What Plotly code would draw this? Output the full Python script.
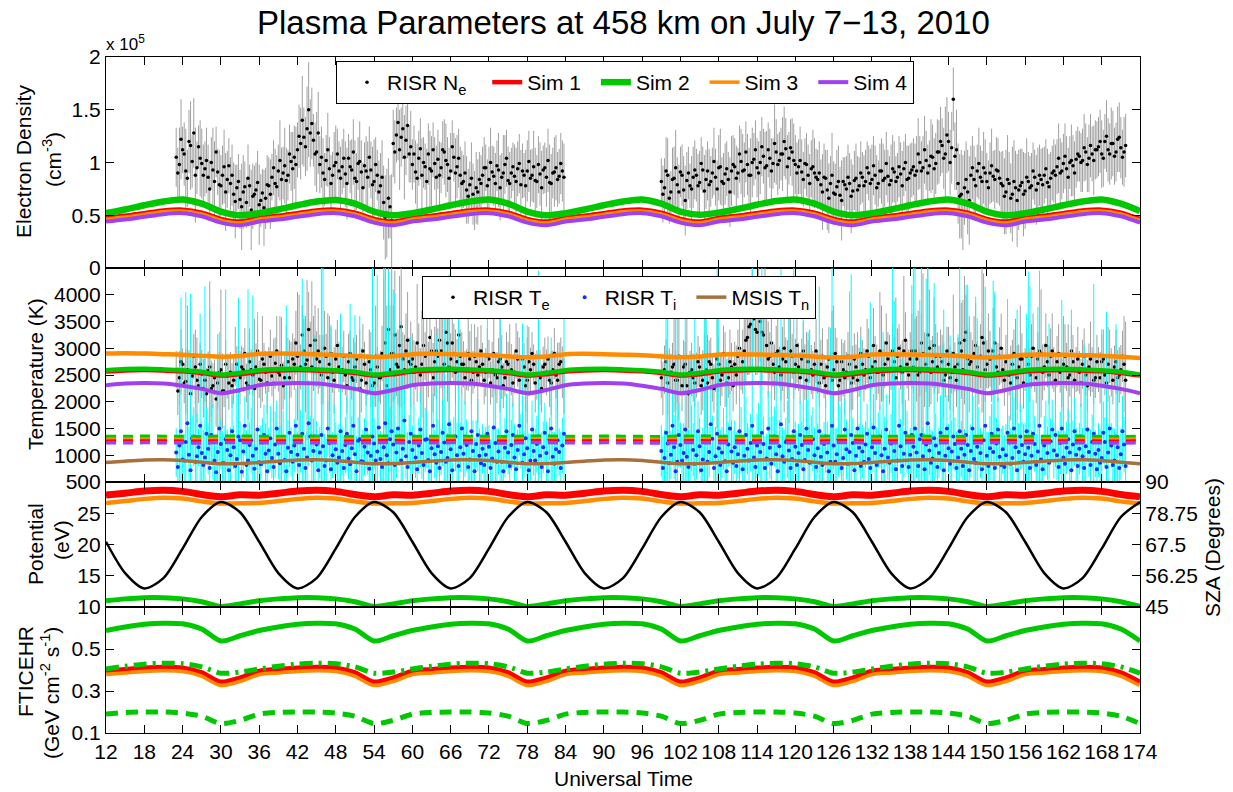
import numpy as np
import plotly.graph_objects as go

# ---------------- model time grid (UT hours, 3-h samples) ----------------
T_MODEL = list(range(12, 175, 3))  # 55 samples

# Electron density models (units of 1e3 cm^-3)
NE_SIM1 = [47.5, 49.5, 52, 54.5, 55.3, 52.5, 46.5, 44,
           47.5, 49.5, 52, 54.5, 55.3, 52.5, 46.5, 44,
           47.5, 49.5, 52, 54.5, 55.3, 52.5, 46.5, 44,
           47.5, 49.5, 52, 54.5, 55.3, 52.5, 46.5, 44,
           47.5, 49.5, 52, 54.5, 55.3, 52.5, 46.5, 44,
           47.5, 49.5, 52, 54.5, 55.3, 52.5, 46.5, 44,
           47.5, 49.5, 52, 54.5, 55.3, 52.5, 46.5]
NE_SIM2 = [52, 55.5, 59.5, 63, 65, 61, 53.5, 50,
           52, 55.5, 59.5, 63, 64.5, 61, 53.5, 50,
           52, 55.5, 59.5, 63, 65, 61, 53.5, 50,
           52, 55.5, 59.5, 63, 65, 61, 53.5, 50.5,
           52.5, 56, 60, 63.5, 65, 61, 53.5, 50,
           52, 55.5, 59.5, 63, 65, 61, 53.5, 50,
           52, 55.5, 59.5, 63, 65, 61, 54]
NE_SIM3 = [46.3, 48.3, 50.8, 53.3, 54.1, 51.3, 45.3, 42.8,
           46.3, 48.3, 50.8, 53.3, 54.1, 51.3, 45.3, 42.8,
           46.3, 48.3, 50.8, 53.3, 54.1, 51.3, 45.3, 42.8,
           46.3, 48.3, 50.8, 53.3, 54.1, 51.3, 45.3, 42.8,
           46.3, 48.3, 50.8, 53.3, 54.1, 51.3, 45.3, 42.8,
           46.3, 48.3, 50.8, 53.3, 54.1, 51.3, 45.3, 42.8,
           46.3, 48.3, 50.8, 53.3, 54.1, 51.3, 45.3]
NE_SIM4 = [44, 46, 48.5, 51, 52, 49, 43, 40.5,
           44, 46, 48.5, 51, 52, 49, 43, 40.5,
           44, 46, 48.5, 51, 52, 49, 43, 40.5,
           44, 46, 48.5, 51, 52, 49, 43, 40.5,
           44, 46, 48.5, 51, 52, 49, 43, 40.5,
           44, 46, 48.5, 51, 52, 49, 43, 40.5,
           44, 46, 48.5, 51, 52, 49, 43]

# Electron temperature models (K)
TE_SIM1 = [2565, 2585, 2592, 2582, 2568, 2538, 2490, 2515,
           2565, 2585, 2592, 2582, 2568, 2538, 2490, 2515,
           2565, 2585, 2592, 2582, 2568, 2538, 2490, 2515,
           2565, 2585, 2592, 2582, 2568, 2538, 2490, 2515,
           2565, 2585, 2592, 2582, 2568, 2538, 2490, 2515,
           2565, 2585, 2592, 2582, 2568, 2538, 2490, 2515,
           2565, 2585, 2592, 2582, 2568, 2538, 2490]
TE_SIM2 = [2590, 2610, 2615, 2605, 2590, 2560, 2510, 2540,
           2590, 2610, 2615, 2605, 2590, 2560, 2510, 2540,
           2590, 2610, 2615, 2605, 2590, 2560, 2510, 2540,
           2590, 2610, 2615, 2605, 2590, 2560, 2510, 2540,
           2590, 2610, 2615, 2605, 2590, 2560, 2510, 2540,
           2590, 2610, 2615, 2605, 2590, 2560, 2510, 2540,
           2590, 2610, 2615, 2605, 2590, 2560, 2510]
TE_SIM3 = [2900, 2905, 2900, 2890, 2880, 2860, 2840, 2855,
           2895, 2900, 2895, 2885, 2875, 2855, 2835, 2850,
           2890, 2895, 2890, 2880, 2870, 2850, 2830, 2845,
           2890, 2895, 2890, 2880, 2870, 2850, 2830, 2845,
           2885, 2890, 2885, 2875, 2865, 2845, 2825, 2840,
           2885, 2890, 2885, 2875, 2865, 2845, 2825, 2840,
           2880, 2885, 2880, 2870, 2860, 2840, 2820]
TE_SIM4 = [2310, 2340, 2350, 2340, 2300, 2240, 2160, 2220,
           2310, 2340, 2350, 2340, 2300, 2240, 2160, 2220,
           2310, 2340, 2350, 2340, 2300, 2240, 2160, 2220,
           2310, 2340, 2350, 2340, 2300, 2240, 2160, 2220,
           2310, 2340, 2350, 2340, 2300, 2240, 2160, 2220,
           2310, 2340, 2350, 2340, 2300, 2240, 2160, 2220,
           2310, 2340, 2350, 2340, 2300, 2240, 2160]
TN_MSIS = [865, 890, 910, 915, 900, 870, 840, 845,
           865, 890, 910, 915, 900, 870, 840, 845,
           865, 890, 910, 915, 900, 870, 840, 845,
           865, 890, 910, 915, 900, 870, 840, 845,
           865, 890, 910, 915, 900, 870, 840, 845,
           865, 890, 910, 915, 900, 870, 840, 845,
           865, 890, 910, 915, 900, 870, 840]
# Ion temperature models (K)
TI_SIM1 = [1268, 1270, 1272, 1271, 1268, 1265, 1273, 1275,
           1268, 1270, 1272, 1271, 1268, 1265, 1273, 1275,
           1268, 1270, 1272, 1271, 1268, 1265, 1273, 1275,
           1268, 1270, 1272, 1271, 1268, 1265, 1273, 1275,
           1268, 1270, 1272, 1271, 1268, 1265, 1273, 1275,
           1268, 1270, 1272, 1271, 1268, 1265, 1273, 1275,
           1268, 1270, 1272, 1271, 1268, 1265, 1273]
TI_SIM2 = [1345, 1347, 1349, 1348, 1345, 1342, 1350, 1352,
           1345, 1347, 1349, 1348, 1345, 1342, 1350, 1352,
           1345, 1347, 1349, 1348, 1345, 1342, 1350, 1352,
           1345, 1347, 1349, 1348, 1345, 1342, 1350, 1352,
           1345, 1347, 1349, 1348, 1345, 1342, 1350, 1352,
           1345, 1347, 1349, 1348, 1345, 1342, 1350, 1352,
           1345, 1347, 1349, 1348, 1345, 1342, 1350]
TI_SIM3 = [1295, 1297, 1299, 1298, 1295, 1292, 1300, 1302,
           1295, 1297, 1299, 1298, 1295, 1292, 1300, 1302,
           1295, 1297, 1299, 1298, 1295, 1292, 1300, 1302,
           1295, 1297, 1299, 1298, 1295, 1292, 1300, 1302,
           1295, 1297, 1299, 1298, 1295, 1292, 1300, 1302,
           1295, 1297, 1299, 1298, 1295, 1292, 1300, 1302,
           1295, 1297, 1299, 1298, 1295, 1292, 1300]
TI_SIM4 = [1232, 1234, 1236, 1235, 1232, 1229, 1237, 1239,
           1232, 1234, 1236, 1235, 1232, 1229, 1237, 1239,
           1232, 1234, 1236, 1235, 1232, 1229, 1237, 1239,
           1232, 1234, 1236, 1235, 1232, 1229, 1237, 1239,
           1232, 1234, 1236, 1235, 1232, 1229, 1237, 1239,
           1232, 1234, 1236, 1235, 1232, 1229, 1237, 1239,
           1232, 1234, 1236, 1235, 1232, 1229, 1237]

# Potential (eV) and solar zenith angle (deg)
POT_SIM1 = [27.9, 28.2, 28.55, 28.7, 28.5, 28.0, 27.65, 27.95,
            27.9, 28.2, 28.55, 28.7, 28.5, 28.0, 27.65, 27.95,
            27.9, 28.2, 28.55, 28.7, 28.5, 28.0, 27.65, 27.95,
            27.9, 28.2, 28.55, 28.7, 28.5, 28.0, 27.65, 27.95,
            27.9, 28.2, 28.55, 28.7, 28.5, 28.0, 27.65, 27.95,
            27.9, 28.2, 28.55, 28.7, 28.5, 28.0, 27.65, 27.95,
            27.9, 28.2, 28.55, 28.7, 28.5, 28.0, 27.65]
POT_SIM3 = [26.65, 26.95, 27.3, 27.5, 27.35, 26.9, 26.55, 26.6,
            26.65, 26.95, 27.3, 27.5, 27.35, 26.9, 26.55, 26.6,
            26.65, 26.95, 27.3, 27.5, 27.35, 26.9, 26.55, 26.6,
            26.65, 26.95, 27.3, 27.5, 27.35, 26.9, 26.55, 26.6,
            26.65, 26.95, 27.3, 27.5, 27.35, 26.9, 26.55, 26.6,
            26.65, 26.95, 27.3, 27.5, 27.35, 26.9, 26.55, 26.6,
            26.65, 26.95, 27.3, 27.5, 27.35, 26.9, 26.55]
POT_SIM2 = [11.0, 11.3, 11.5, 11.5, 11.3, 10.85, 10.1, 10.5,
            11.0, 11.3, 11.5, 11.5, 11.3, 10.85, 10.1, 10.5,
            11.0, 11.3, 11.5, 11.5, 11.3, 10.85, 10.1, 10.5,
            11.0, 11.3, 11.5, 11.5, 11.3, 10.85, 10.1, 10.5,
            11.0, 11.3, 11.5, 11.5, 11.3, 10.85, 10.1, 10.5,
            11.0, 11.3, 11.5, 11.5, 11.3, 10.85, 10.1, 10.5,
            11.0, 11.3, 11.5, 11.5, 11.3, 10.85, 10.1]
SZA_DEG = [68.5, 57.2, 51.7, 55.4, 66.0, 77.4, 82.8, 79.1,
           68.5, 57.2, 51.7, 55.4, 66.0, 77.4, 82.8, 79.1,
           68.5, 57.2, 51.7, 55.4, 66.0, 77.4, 82.8, 79.1,
           68.5, 57.2, 51.7, 55.4, 66.0, 77.4, 82.8, 79.1,
           68.5, 57.2, 51.7, 55.4, 66.0, 77.4, 82.8, 79.1,
           68.5, 57.2, 51.7, 55.4, 66.0, 77.4, 82.8, 79.1,
           68.5, 57.2, 51.7, 55.4, 66.0, 77.4, 82.8]

# FTICEHR (GeV cm^-2 s^-1)
FTI_SIM2 = [0.588, 0.605, 0.618, 0.623, 0.62, 0.595, 0.538, 0.563,
            0.588, 0.605, 0.618, 0.623, 0.62, 0.595, 0.538, 0.563,
            0.588, 0.605, 0.618, 0.623, 0.62, 0.595, 0.538, 0.563,
            0.588, 0.605, 0.618, 0.623, 0.62, 0.595, 0.538, 0.563,
            0.588, 0.605, 0.618, 0.623, 0.62, 0.595, 0.538, 0.563,
            0.588, 0.605, 0.618, 0.623, 0.62, 0.595, 0.538, 0.563,
            0.588, 0.605, 0.618, 0.623, 0.62, 0.595, 0.538]
FTI_SIM1 = [0.397, 0.405, 0.412, 0.415, 0.412, 0.39, 0.345, 0.365,
            0.397, 0.405, 0.412, 0.415, 0.412, 0.39, 0.345, 0.365,
            0.397, 0.405, 0.412, 0.415, 0.412, 0.39, 0.345, 0.365,
            0.397, 0.405, 0.412, 0.415, 0.412, 0.39, 0.345, 0.365,
            0.397, 0.405, 0.412, 0.415, 0.412, 0.39, 0.345, 0.365,
            0.397, 0.405, 0.412, 0.415, 0.412, 0.39, 0.345, 0.365,
            0.397, 0.405, 0.412, 0.415, 0.412, 0.39, 0.345]
FTI_SIM3 = [0.384, 0.392, 0.399, 0.402, 0.399, 0.377, 0.332, 0.352,
            0.384, 0.392, 0.399, 0.402, 0.399, 0.377, 0.332, 0.352,
            0.384, 0.392, 0.399, 0.402, 0.399, 0.377, 0.332, 0.352,
            0.384, 0.392, 0.399, 0.402, 0.399, 0.377, 0.332, 0.352,
            0.384, 0.392, 0.399, 0.402, 0.399, 0.377, 0.332, 0.352,
            0.384, 0.392, 0.399, 0.402, 0.399, 0.377, 0.332, 0.352,
            0.384, 0.392, 0.399, 0.402, 0.399, 0.377, 0.332]
FTI_DASHDOT = [0.405, 0.418, 0.428, 0.432, 0.43, 0.415, 0.385, 0.39,
               0.405, 0.418, 0.428, 0.432, 0.43, 0.415, 0.385, 0.39,
               0.405, 0.418, 0.428, 0.432, 0.43, 0.415, 0.385, 0.39,
               0.405, 0.418, 0.428, 0.432, 0.43, 0.415, 0.385, 0.39,
               0.405, 0.418, 0.428, 0.432, 0.43, 0.415, 0.385, 0.39,
               0.405, 0.418, 0.428, 0.432, 0.43, 0.415, 0.385, 0.39,
               0.405, 0.418, 0.428, 0.432, 0.43, 0.415, 0.385]
FTI_DASH = [0.19, 0.198, 0.2, 0.2, 0.195, 0.18, 0.145, 0.16,
            0.19, 0.198, 0.2, 0.2, 0.195, 0.18, 0.145, 0.16,
            0.19, 0.198, 0.2, 0.2, 0.195, 0.18, 0.145, 0.16,
            0.19, 0.198, 0.2, 0.2, 0.195, 0.18, 0.145, 0.16,
            0.19, 0.198, 0.2, 0.2, 0.195, 0.18, 0.145, 0.16,
            0.19, 0.198, 0.2, 0.2, 0.195, 0.18, 0.145, 0.16,
            0.19, 0.198, 0.2, 0.2, 0.195, 0.18, 0.145]

# ---------------- RISR measurements ----------------
# Two interleaved 30-min series per segment (A on the hour/half hour, B a quarter hour later)
CADENCE = 0.5

NE1 = [105, 98, 112, 92, 120, 101, 88, 115, 99,
       94, 86, 100, 82, 91, 78, 96, 84,
       80, 70, 76, 65, 72, 62, 78, 68, 74, 60, 71, 66,
       78, 86, 80, 92, 84, 97, 88, 101,
       105, 112, 118, 124, 132, 128, 121, 110,
       98, 90, 102, 94, 88, 100, 92,
       96, 89, 104, 93, 85, 99, 91, 97, 86, 93, 82, 88, 78,
       62, 52, 58,
       118, 126, 112, 132, 121, 108,
       98, 91, 104, 88, 96, 108, 92, 99,
       103, 95, 110, 98, 92, 105, 96, 88,
       82, 74, 79, 70, 76, 84,
       88, 95, 84, 91, 80, 93, 86, 98, 83, 90, 87, 94, 79, 88, 92, 85, 96, 82, 89, 93, 86, 81, 90, 95, 87, 92]
NE_ERR1 = [28, 35, 22, 40, 30, 25, 45, 20, 33,
           26, 31, 24, 38, 22, 29, 35, 27,
           25, 30, 22, 28, 35, 24, 20, 31, 26, 38, 23, 29,
           27, 22, 33, 25, 30, 36, 24, 28,
           30, 26, 34, 28, 40, 32, 25, 38,
           27, 33, 24, 30, 22, 35, 28,
           26, 31, 23, 29, 36, 25, 30, 22, 34, 27, 40, 24, 31,
           35, 42, 30,
           32, 26, 38, 29, 33, 27,
           24, 30, 26, 35, 22, 29, 33, 25,
           28, 24, 31, 26, 36, 23, 30, 27,
           25, 32, 22, 29, 34, 26,
           27, 22, 31, 25, 29, 35, 23, 28, 32, 24, 30, 26, 33, 21, 29, 27, 34, 25, 30, 23, 28, 36, 24, 31, 26, 29]
NE1B = [90, 122, 108, 85, 116, 128, 95, 104, 88,
        102, 75, 93, 110, 79, 88, 72, 97,
        88, 63, 82, 58, 77, 85, 55, 70, 81, 64, 57, 79,
        70, 95, 77, 102, 90, 83, 108, 94,
        98, 125, 140, 115, 150, 137, 108, 128,
        105, 84, 112, 80, 97, 108, 85,
        104, 80, 96, 110, 82, 101, 76, 92, 105, 79, 98, 72, 86,
        48, 66, 45,
        110, 138, 124, 105, 135, 115,
        108, 85, 113, 100, 82, 94, 112, 86,
        88, 112, 102, 85, 115, 90, 104, 80,
        90, 68, 85, 64, 72, 80,
        95, 78, 100, 87, 97, 76, 90, 104, 80, 96, 82, 99, 92, 78, 101, 88, 83, 98, 76, 95, 102, 80, 91, 84, 99, 86]
NE_ERR1B = [24, 38, 30, 27, 42, 33, 25, 36, 29,
            31, 27, 40, 24, 33, 28, 37, 26,
            29, 35, 26, 41, 24, 32, 38, 27, 30, 25, 36, 28,
            33, 26, 30, 38, 25, 31, 28, 35,
            36, 30, 42, 28, 45, 34, 30, 39,
            29, 25, 35, 27, 32, 24, 30,
            28, 34, 25, 31, 27, 38, 24, 33, 29, 36, 26, 30, 35,
            40, 38, 44,
            30, 36, 28, 40, 31, 34,
            27, 33, 29, 24, 31, 36, 26, 30,
            32, 27, 35, 29, 25, 33, 28, 31,
            30, 26, 34, 28, 31, 27,
            29, 25, 33, 28, 24, 31, 36, 27, 30, 23, 32, 28, 26, 34, 29, 25, 31, 27, 35, 24, 30, 28, 33, 26, 29, 32]
NE2 = [82, 76, 88, 72, 85, 79, 91, 74, 83, 78, 86,
       88, 81, 93, 84, 79, 90, 86, 95, 82, 89, 84, 92,
       96, 90, 101, 93, 98, 88, 103, 95,
       100, 106, 97, 104, 99, 110, 102, 108, 113, 104, 110, 98,
       96, 91, 99, 88, 94, 90,
       84, 79, 86, 74, 80, 71, 77, 69, 82, 75, 80, 73, 85, 78,
       86, 82, 90, 84, 88, 80, 92, 85, 87, 83, 91, 86, 89, 94, 84, 90,
       96, 92, 100, 95, 102, 97, 105, 99,
       110, 116, 108, 120, 114, 106,
       80, 70, 76, 72,
       88, 84, 92, 86, 95, 82, 90, 87, 93, 85,
       78, 72, 80, 70, 76, 74, 81, 73,
       82, 78, 86, 80, 84, 88, 81, 85,
       92, 96, 90, 99, 94, 100, 97, 103,
       106, 102, 110, 104, 108, 112,
       115, 108, 120, 112, 118, 106, 122, 114, 110]
NE_ERR2 = [22, 28, 35, 20, 30, 26, 24, 32, 27, 21, 29,
           25, 30, 22, 28, 34, 24, 27, 31, 23, 29, 26, 33,
           27, 24, 31, 26, 29, 35, 25, 28,
           30, 26, 33, 28, 24, 31, 27, 35, 29, 25, 32, 28,
           26, 31, 24, 29, 27, 33,
           28, 24, 32, 38, 26, 30, 35, 27, 23, 31, 29, 25, 33, 27,
           24, 30, 26, 33, 28, 22, 31, 27, 25, 34, 29, 23, 30, 26, 32, 28,
           27, 33, 25, 30, 28, 24, 31, 29,
           30, 26, 45, 28, 34, 32,
           38, 42, 35, 40,
           28, 32, 25, 30, 34, 27, 29, 24, 31, 26,
           33, 40, 30, 45, 35, 38, 32, 36,
           28, 31, 26, 34, 29, 27, 32, 25,
           30, 26, 33, 28, 31, 25, 29, 27,
           24, 30, 27, 32, 26, 28,
           28, 32, 26, 30, 34, 27, 31, 29, 33]
NE2B = [70, 92, 66, 84, 95, 72, 88, 64, 90, 75, 93,
        78, 99, 73, 92, 82, 101, 75, 96, 80, 94, 72, 98,
        85, 108, 92, 110, 88, 100, 112, 90,
        115, 95, 112, 92, 118, 98, 108, 120, 96, 114, 102, 90,
        102, 84, 98, 80, 96, 86,
        90, 72, 85, 66, 88, 70, 82, 64, 79, 86, 68, 83, 74, 90,
        78, 95, 80, 97, 76, 92, 83, 99, 79, 94, 82, 96, 78, 100, 85, 93,
        88, 108, 92, 112, 90, 106, 94, 110,
        120, 104, 126, 100, 160, 112,
        68, 62, 84, 64,
        95, 78, 99, 82, 90, 76, 97, 84, 92, 80,
        68, 84, 66, 82, 64, 78, 70, 86,
        76, 92, 74, 88, 79, 94, 77, 90,
        88, 104, 92, 106, 86, 102, 90, 108,
        100, 114, 98, 116, 102, 112,
        120, 104, 125, 108, 118, 110, 124, 105, 116]
NE_ERR2B = [27, 32, 24, 30, 36, 26, 29, 33, 25, 31, 28,
            30, 25, 34, 28, 24, 32, 27, 36, 29, 26, 33, 28,
            31, 27, 35, 29, 26, 33, 28, 30,
            28, 34, 26, 31, 37, 29, 25, 33, 30, 27, 35, 29,
            32, 26, 30, 28, 35, 27,
            30, 36, 27, 33, 40, 29, 34, 38, 26, 31, 35, 28, 32, 30,
            29, 25, 33, 28, 31, 26, 35, 30, 27, 32, 24, 29, 33, 27, 31, 26,
            30, 34, 28, 32, 27, 35, 29, 31,
            33, 29, 36, 31, 30, 38,
            40, 45, 36, 42,
            30, 27, 34, 29, 32, 26, 35, 28, 31, 30,
            36, 42, 33, 39, 44, 35, 40, 37,
            30, 27, 33, 29, 35, 28, 31, 26,
            29, 33, 27, 31, 28, 34, 30, 26,
            28, 32, 26, 30, 33, 27,
            30, 27, 34, 29, 31, 28, 33, 26, 30]

TE1 = [2600, 2450, 2700, 2380, 2550, 2480, 2650, 2300, 2520,
       2400, 2580, 2250, 2450, 2350, 2600, 2200, 2480,
       2550, 2400, 2700, 2450, 2600, 2350, 2750, 2500, 2650, 2420, 2800, 2550,
       2600, 2480, 2720, 2550, 2680, 2450, 2750, 2600,
       2700, 2850, 2650, 2950, 2780, 3050, 2900, 2800,
       2750, 2600, 2850, 2700, 2550, 2800, 2650,
       2600, 2500, 2750, 2450, 2650, 2550, 2400, 2700, 2500, 2600, 2350, 2650, 2450,
       2500, 2300, 2600,
       2900, 2700, 3050, 2800, 2950, 2750,
       2800, 2650, 2900, 2700, 2850, 2600, 2950, 2750,
       2850, 2950, 2700, 3100, 2800, 2900, 2750, 2850,
       2700, 2600, 2800, 2550, 2750, 2650,
       2700, 2550, 2800, 2600, 2500, 2750, 2650, 2450, 2700, 2600, 2550, 2800, 2500, 2650, 2400, 2600, 2700, 2500, 2450, 2650, 2550, 2400, 2600, 2500, 2700, 2550]
TE_ERR1 = [350, 500, 300, 600, 420, 380, 700, 320, 450,
           400, 360, 520, 330, 480, 1500, 300, 420,
           380, 450, 340, 500, 410, 360, 620, 390, 440, 350, 800, 400,
           420, 380, 480, 360, 900, 410, 450, 520,
           480, 1200, 420, 600, 1500, 450, 700, 520,
           500, 650, 420, 900, 380, 550, 470,
           430, 380, 520, 410, 460, 350, 600, 420, 390, 700, 440, 380, 500,
           1800, 1500, 1200,
           900, 600, 1300, 500, 700, 450,
           480, 420, 560, 1000, 450, 520, 400, 650,
           520, 700, 450, 1100, 480, 560, 420, 500,
           430, 380, 520, 400, 460, 350,
           400, 450, 360, 520, 380, 440, 600, 350, 420, 480, 390, 520, 360, 450, 800, 410, 370, 460, 520, 380, 430, 500, 360, 440, 410, 480]
TE1B = [2200, 2750, 2350, 2600, 2150, 2850, 2400, 2700, 2250,
        2150, 2650, 2300, 2050, 2550, 2200, 2700, 2350,
        2300, 2850, 2200, 2650, 2900, 2300, 2600, 2250, 2950, 2400, 2700, 2350,
        2850, 2350, 2950, 2500, 2300, 2900, 2450, 2800,
        3100, 2600, 3250, 2700, 3350, 2650, 3150, 2950,
        2500, 3000, 2450, 2900, 2400, 3050, 2550,
        2850, 2300, 2900, 2400, 2800, 2250, 2950, 2350, 2750, 2300, 2850, 2450, 2900,
        3100, 3350, 2900,
        3250, 2650, 3400, 2600, 3150, 2700,
        2550, 3100, 2500, 3050, 2600, 3200, 2450, 2950,
        3150, 2600, 3300, 2650, 3100, 2550, 3250, 2700,
        2450, 2900, 2400, 2850, 2500, 2950,
        2400, 2850, 2350, 2900, 2450, 2800, 2300, 2750, 2850, 2350, 2950, 2400, 2800, 2300, 2750, 2900, 2350, 2850, 2250, 2700, 2800, 2350, 2900, 2400, 2750, 2300]
TE_ERR1B = [450, 600, 380, 1200, 500, 420, 800, 400, 550,
            480, 1600, 420, 520, 380, 700, 450, 500,
            420, 550, 900, 400, 480, 620, 380, 1300, 450, 520, 400, 580,
            500, 420, 650, 1100, 450, 520, 700, 480,
            600, 1400, 550, 900, 700, 1600, 650, 800,
            550, 700, 1200, 500, 620, 480, 900,
            480, 520, 420, 800, 450, 1100, 500, 420, 600, 480, 950, 450, 520,
            1600, 1400, 1700,
            1200, 700, 1500, 650, 900, 800,
            600, 1100, 500, 700, 1300, 550, 650, 900,
            700, 1200, 600, 1500, 650, 800, 1000, 600,
            500, 700, 450, 600, 900, 480,
            450, 520, 400, 700, 480, 1000, 420, 550, 600, 450, 520, 800, 420, 480, 650, 400, 550, 900, 450, 500, 420, 600, 480, 700, 450, 520]
TE2 = [2450, 2600, 2350, 2550, 2700, 2400, 2500, 2650, 2300, 2550, 2450,
       2500, 2650, 2400, 2600, 2750, 2450, 2550, 2700, 2500, 2600, 2450, 2650,
       2700, 2850, 2600, 2950, 3200, 3450, 3550, 3300,
       3500, 3250, 3050, 2850, 2700, 2900, 2650, 2800, 2750, 2600, 2850, 2700,
       2650, 2800, 2550, 2750, 2600, 2700,
       2550, 2700, 2450, 2650, 2500, 2600, 2750, 2400, 2600, 2550, 2700, 2450, 2650, 2550,
       2700, 2600, 2850, 2650, 2750, 2550, 2900, 2700, 2800, 2600, 2750, 2850, 2650, 2950, 2700, 2800,
       2650, 2800, 2550, 2900, 2700, 3000, 2750, 2850,
       2600, 2750, 2500, 2700, 2550, 2650,
       2700, 2950, 3150, 2800,
       2750, 2900, 2650, 2850, 3100, 2700, 2800, 2950, 2650, 2850,
       2600, 2750, 2500, 2700, 2550, 2650, 2800, 2600,
       2700, 2850, 2600, 2800, 2900, 2650, 2750, 2850,
       2600, 2750, 2550, 2700, 2650, 2500, 2750, 2600,
       2550, 2700, 2500, 2650, 2600, 2450,
       2600, 2750, 2500, 2700, 2550, 2650, 2450, 2600, 2700]
TE_ERR2 = [380, 450, 600, 350, 900, 420, 380, 500, 1300, 400, 450,
           420, 380, 560, 1100, 400, 450, 360, 520, 400, 700, 380, 450,
           420, 500, 380, 600, 700, 900, 650, 800,
           750, 600, 500, 450, 420, 520, 380, 600, 450, 1000, 420, 480,
           450, 380, 520, 400, 460, 420,
           400, 460, 380, 520, 420, 1200, 450, 400, 500, 380, 440, 600, 420, 460,
           450, 380, 520, 420, 480, 400, 900, 440, 500, 380, 460, 520, 420, 1400, 450, 500,
           500, 800, 450, 1500, 520, 1100, 480, 600,
           450, 500, 420, 700, 400, 460,
           500, 900, 1200, 600,
           550, 700, 480, 600, 1300, 450, 520, 800, 460, 540,
           420, 500, 380, 460, 1000, 420, 480, 400,
           450, 600, 420, 500, 1200, 440, 480, 520,
           420, 480, 380, 900, 450, 400, 500, 420,
           400, 460, 380, 440, 420, 380,
           420, 500, 380, 700, 450, 400, 520, 460, 900]
TE2B = [2250, 2750, 2200, 2650, 2400, 2850, 2300, 2700, 2150, 2600, 2350,
        2750, 2300, 2850, 2350, 2700, 2250, 2800, 2400, 2900, 2350, 2750, 2300,
        2500, 3000, 2750, 3150, 3400, 3600, 3350, 3700,
        3300, 3600, 2800, 3100, 2550, 2950, 2500, 3000, 2600, 2950, 2550, 3050,
        2450, 2950, 2400, 2850, 2500, 2950,
        2350, 2850, 2300, 2800, 2400, 2900, 2300, 2750, 2450, 2850, 2350, 2800, 2400, 2900,
        2500, 2950, 2450, 3050, 2550, 2950, 2500, 3100, 2600, 2950, 2450, 3000, 2550, 3150, 2500, 2950,
        2950, 2500, 3100, 2600, 3250, 2550, 3050, 2650,
        2850, 2400, 2950, 2450, 2900, 2400,
        3100, 2600, 3300, 2700,
        2550, 3050, 2500, 3200, 2600, 2950, 2500, 3100, 2550, 3000,
        2400, 2850, 2350, 2900, 2450, 2800, 2350, 2850,
        2500, 3000, 2450, 2950, 2550, 3050, 2500, 2950,
        2400, 2900, 2350, 2850, 2450, 2950, 2400, 2800,
        2350, 2850, 2300, 2800, 2400, 2750,
        2450, 2800, 2350, 2850, 2400, 2750, 2500, 2850, 2400]
TE_ERR2B = [500, 420, 800, 450, 550, 1200, 480, 420, 650, 500, 450,
            480, 550, 420, 900, 500, 450, 1300, 480, 520, 420, 600, 480,
            550, 700, 600, 800, 900, 1000, 850, 1100,
            900, 1000, 700, 600, 520, 650, 480, 1200, 550, 600, 500, 700,
            480, 550, 900, 500, 450, 600,
            450, 520, 420, 600, 1300, 480, 500, 420, 700, 450, 520, 480, 900, 500,
            500, 600, 450, 700, 520, 1100, 480, 550, 650, 500, 1500, 450, 600, 520, 480, 700,
            600, 1200, 550, 700, 1600, 600, 900, 650,
            500, 700, 450, 600, 1100, 500,
            800, 1300, 700, 900,
            600, 800, 550, 1400, 600, 700, 500, 900, 550, 650,
            480, 550, 700, 450, 600, 1000, 480, 520,
            500, 650, 480, 1300, 520, 600, 550, 700,
            480, 550, 450, 600, 1000, 480, 520, 600,
            450, 520, 480, 700, 450, 500,
            480, 550, 900, 500, 450, 600, 520, 480, 1100]

TI1 = [1050, 1180, 920, 1250, 1010, 1320, 880, 1150, 1040,
       960, 1120, 1380, 900, 1060, 1210, 850, 1100,
       1000, 1150, 930, 1280, 1070, 820, 1190, 990, 1120, 870, 1240, 1030,
       1090, 950, 1200, 1030, 1330, 910, 1140, 1060,
       1180, 1010, 1260, 1120, 960, 1350, 1080, 1200,
       1050, 1170, 900, 1230, 1000, 1110, 960,
       1080, 1190, 940, 1130, 1020, 1270, 890, 1160, 1050, 990, 1220, 1070, 930,
       1150, 1000, 1300,
       1200, 1050, 1350, 1120, 980, 1250,
       1100, 960, 1180, 1040, 1290, 910, 1130, 1020,
       1170, 1060, 1240, 950, 1110, 1320, 1000, 1150,
       1030, 1190, 920, 1080, 1210, 990,
       1120, 1010, 1160, 940, 1230, 1070, 880, 1140, 1050, 1190, 960, 1100, 1260, 1020, 1130, 900, 1080, 1210, 990, 1150, 1040, 1300, 970, 1110, 1060, 1180]
TI_ERR1 = [450, 900, 380, 2800, 520, 420, 1600, 350, 600,
           3200, 480, 550, 400, 2200, 460, 700, 380,
           520, 410, 1800, 360, 480, 650, 420, 3000, 390, 510, 450, 560,
           430, 380, 620, 480, 1400, 400, 520, 460,
           500, 420, 580, 2500, 470, 390, 610, 440,
           480, 3400, 410, 560, 430, 500, 620,
           450, 520, 390, 600, 2600, 440, 480, 530, 410, 1900, 470, 3300, 520,
           3500, 2400, 600,
           2900, 480, 550, 1700, 430, 500,
           460, 390, 520, 480, 600, 420, 2100, 450,
           500, 430, 3100, 470, 540, 400, 610, 460,
           520, 480, 390, 570, 440, 510,
           460, 520, 400, 580, 1500, 430, 490, 550, 410, 470, 620, 380, 510, 440, 2300, 500, 460, 530, 420, 480, 590, 400, 470, 1200, 440, 520]
TI1B = [780, 1450, 900, 1600, 720, 1350, 980, 1550, 820,
        1400, 760, 1250, 680, 1500, 850, 1300, 720,
        1450, 800, 1350, 690, 1550, 900, 1280, 750, 1480, 830, 1380, 700,
        1320, 780, 1500, 850, 1250, 700, 1420, 880,
        1550, 820, 1400, 760, 1600, 900, 1350, 720,
        1380, 800, 1500, 740, 1300, 860, 1450,
        760, 1400, 830, 1550, 700, 1300, 880, 1480, 750, 1350, 900, 1520, 780,
        1600, 850, 1450,
        820, 1500, 900, 1650, 780, 1400,
        1350, 740, 1480, 820, 1300, 700, 1550, 860,
        760, 1420, 880, 1580, 720, 1350, 800, 1500,
        1300, 780, 1450, 700, 1380, 850,
        820, 1400, 760, 1520, 880, 1300, 700, 1450, 800, 1380, 740, 1550, 860, 1320, 720, 1480, 900, 1350, 780, 1420, 700, 1500, 840, 1280, 760, 1400]
TI_ERR1B = [600, 2500, 500, 700, 3300, 550, 800, 2100, 650,
            500, 3000, 700, 550, 1800, 600, 2800, 520,
            650, 500, 2600, 700, 550, 3200, 600, 480, 2200, 720, 560, 1500,
            600, 2400, 520, 700, 580, 3100, 640, 500,
            700, 560, 2900, 620, 800, 540, 1900, 680,
            3400, 600, 520, 2700, 650, 560, 2200,
            580, 700, 3000, 540, 650, 2300, 600, 720, 520, 3300, 600, 680, 560,
            3400, 3600, 3000,
            3200, 700, 2600, 600, 650, 1800,
            620, 560, 700, 2900, 540, 650, 600, 2400,
            3300, 620, 700, 2800, 560, 650, 3100, 600,
            700, 560, 2000, 620, 680, 540,
            600, 2200, 540, 680, 620, 3000, 560, 700, 1900, 600, 650, 560, 2600, 620, 700, 540, 600, 3100, 650, 560, 720, 1700, 600, 540, 680, 2300]
TI2 = [1080, 950, 1220, 1010, 1150, 880, 1190, 1040, 970, 1260, 1100,
       1000, 1170, 920, 1240, 1060, 1310, 980, 1130, 1050, 890, 1200, 1070,
       1150, 1020, 1280, 990, 1120, 1230, 960, 1180,
       1060, 1210, 940, 1140, 1300, 1020, 1170, 980, 1250, 1090, 930, 1160,
       1040, 1190, 910, 1100, 1270, 1000,
       1130, 970, 1210, 1050, 880, 1180, 1020, 1290, 950, 1110, 1060, 1230, 990, 1140,
       1070, 1200, 930, 1150, 1040, 1280, 1000, 1120, 960, 1220, 1080, 900, 1170, 1030, 1250, 1010,
       1160, 1050, 1300, 980, 1200, 1090, 940, 1180,
       1040, 1250, 990, 1130, 1070, 1210,
       960, 1120, 1010, 1190,
       1080, 930, 1160, 1040, 1280, 990, 1130, 1060, 1220, 970,
       1110, 1000, 1240, 950, 1150, 1060, 1190, 1020,
       1140, 990, 1210, 1070, 920, 1180, 1040, 1260,
       1090, 1000, 1230, 960, 1140, 1050, 1200, 1010,
       1120, 980, 1170, 1060, 1250, 1030,
       1100, 950, 1250, 1050, 1180, 900, 1150, 1020, 1200]
TI_ERR2 = [480, 520, 2900, 450, 600, 3300, 420, 560, 480, 1500, 500,
           450, 520, 600, 2600, 470, 430, 550, 3100, 480, 520, 410, 590,
           500, 450, 620, 1800, 480, 540, 430, 600,
           2700, 510, 460, 580, 430, 1900, 490, 540, 450, 3200, 520, 470,
           550, 440, 600, 2200, 480, 520,
           460, 530, 410, 580, 2500, 450, 500, 620, 430, 560, 3000, 480, 520, 450,
           500, 430, 570, 460, 1700, 520, 480, 600, 420, 550, 2800, 470, 510, 440, 580, 500,
           3400, 480, 2600, 550, 3100, 460, 520, 600,
           470, 1800, 520, 450, 580, 500,
           2300, 520, 480, 3000,
           500, 560, 2400, 470, 530, 450, 600, 3200, 480, 520,
           450, 580, 500, 1900, 470, 540, 430, 590,
           3300, 480, 520, 2700, 460, 550, 500, 430,
           520, 460, 580, 1600, 490, 540, 450, 500,
           480, 530, 1400, 460, 510, 440,
           500, 2400, 460, 540, 420, 600, 1800, 480, 520]
TI2B = [760, 1420, 850, 1550, 700, 1380, 900, 1480, 780, 1320, 840,
        1450, 720, 1350, 880, 1580, 760, 1400, 820, 1300, 700, 1500, 860,
        800, 1450, 740, 1380, 900, 1550, 780, 1300,
        1420, 760, 1500, 840, 1350, 700, 1580, 880, 1300, 760, 1450, 820,
        1380, 740, 1500, 860, 1300, 780,
        1450, 820, 1350, 700, 1550, 880, 1300, 760, 1480, 840, 1380, 720, 1500, 800,
        880, 1400, 760, 1520, 820, 1350, 700, 1480, 860, 1300, 740, 1550, 800, 1420, 780, 1380,
        1500, 800, 1380, 740, 1600, 860, 1320, 780,
        1420, 720, 1500, 840, 1350, 760,
        1450, 800, 1380, 720,
        1500, 860, 1320, 740, 1550, 800, 1400, 760, 1480, 820,
        780, 1420, 840, 1500, 720, 1350, 880, 1450,
        760, 1400, 820, 1550, 740, 1320, 860, 1480,
        1380, 780, 1500, 840, 1300, 720, 1450, 800,
        1350, 760, 1480, 820, 1400, 740,
        860, 1420, 780, 1500, 820, 1350, 760, 1450, 800]
TI_ERR2B = [600, 2700, 540, 680, 3200, 600, 560, 2300, 700, 620, 3000,
            560, 680, 2600, 600, 720, 540, 3300, 650, 580, 2100, 700, 600,
            640, 2900, 560, 700, 620, 3100, 580, 680,
            3200, 600, 700, 2500, 560, 650, 2900, 600, 720, 560, 3400, 640,
            620, 2800, 560, 700, 600, 1900,
            2700, 600, 680, 540, 3300, 620, 700, 2200, 580, 660, 3000, 600, 560, 2400,
            640, 560, 3100, 620, 700, 580, 2600, 660, 600, 3300, 560, 700, 2000, 620, 580, 2800,
            3500, 600, 3200, 680, 3400, 620, 2900, 560,
            700, 3000, 620, 2400, 600, 680,
            3200, 600, 2800, 660,
            620, 3100, 580, 700, 2600, 640, 560, 3300, 600, 680,
            600, 2500, 660, 580, 3000, 620, 700, 2200,
            3400, 640, 580, 2900, 620, 700, 2600, 560,
            600, 680, 2400, 620, 560, 3000, 640, 600,
            620, 2300, 580, 660, 2800, 600,
            640, 580, 2900, 620, 700, 2100, 600, 660, 560]

X_TICKS = list(range(12, 175, 6))

# ---------------- colours ----------------
RED, GREEN, ORANGE, PURPLE = '#ff0000', '#00c800', '#ff8c00', '#a040f0'
BROWN, CYAN, BLUE, GRAY = '#a8703c', '#00ffff', '#1030ff', '#a0a0a0'


def merge(parts, scale=1.0):
    """parts: list of (start_time, values, errors) -> x, y, err lists."""
    xs, ys, es = [], [], []
    for start, vals, errs in parts:
        n = len(vals)
        e = list(errs[:n]) + [0] * max(0, n - len(errs))
        xs += list(start + CADENCE * np.arange(n))
        ys += [v * scale for v in vals]
        es += [v * scale for v in e]
    return xs, ys, es


fig = go.Figure()


def series(y, xa, ya, color, width, dash='solid', scale=1.0, name=None, legend=None):
    fig.add_trace(go.Scatter(
        x=T_MODEL, y=[v * scale for v in y], xaxis=xa, yaxis=ya, mode='lines',
        line=dict(color=color, width=width, dash=dash, shape='spline', smoothing=0.8),
        name=name or '', showlegend=name is not None, legend=legend or 'legend',
        hoverinfo='skip'))


def data(parts, xa, ya, mcolor, ecolor, msize, name, legend, scale=1.0):
    x, y, e = merge(parts, scale)
    fig.add_trace(go.Scatter(
        x=x, y=y, xaxis=xa, yaxis=ya, mode='markers',
        marker=dict(color=mcolor, size=msize, line=dict(width=0)),
        error_y=dict(type='data', array=e, color=ecolor, thickness=1, width=0),
        name=name, showlegend=True, legend=legend, hoverinfo='skip'))


NB = '\u00a0'
# Panel 1: electron density (plotted in units of 1e5)
data([(23.0, NE1, NE_ERR1), (23.25, NE1B, NE_ERR1B), (99.0, NE2, NE_ERR2), (99.25, NE2B, NE_ERR2B)],
     'x', 'y', 'black', GRAY, 3.5, 'RISR N<sub>e</sub>' + NB, 'legend', scale=0.01)
series(NE_SIM1, 'x', 'y', RED, 4.5, scale=0.01, name='Sim 1', legend='legend')
series(NE_SIM2, 'x', 'y', GREEN, 6.5, scale=0.01, name='Sim 2', legend='legend')
series(NE_SIM3, 'x', 'y', ORANGE, 3.5, scale=0.01, name='Sim 3', legend='legend')
series(NE_SIM4, 'x', 'y', PURPLE, 4, scale=0.01, name='Sim 4', legend='legend')

# Panel 2: temperatures
data([(23.0, TE1, TE_ERR1), (23.25, TE1B, TE_ERR1B), (99.0, TE2, TE_ERR2), (99.25, TE2B, TE_ERR2B)],
     'x2', 'y2', 'black', GRAY, 3.5, 'RISR T<sub>e</sub>', 'legend2')
data([(23.0, TI1, TI_ERR1), (23.25, TI1B, TI_ERR1B), (99.0, TI2, TI_ERR2), (99.25, TI2B, TI_ERR2B)],
     'x2', 'y2', BLUE, CYAN, 4, 'RISR T<sub>i</sub>', 'legend2')
series(TE_SIM3, 'x2', 'y2', ORANGE, 4.5)
series(TE_SIM1, 'x2', 'y2', RED, 4.5)
series(TE_SIM2, 'x2', 'y2', GREEN, 4.5)
series(TE_SIM4, 'x2', 'y2', PURPLE, 4)
TI_DASH = '10px,7px'
series(TI_SIM2, 'x2', 'y2', GREEN, 4, dash=TI_DASH)
series(TI_SIM3, 'x2', 'y2', ORANGE, 4, dash=TI_DASH)
series(TI_SIM1, 'x2', 'y2', RED, 3, dash=TI_DASH)
series(TI_SIM4, 'x2', 'y2', PURPLE, 3.5, dash=TI_DASH)
series(TN_MSIS, 'x2', 'y2', BROWN, 3.5, name='MSIS T<sub>n</sub>', legend='legend2')

# Panel 3: potential + SZA
series(POT_SIM1, 'x3', 'y3', RED, 7)
series(POT_SIM3, 'x3', 'y3', ORANGE, 4.5)
series(POT_SIM2, 'x3', 'y3', GREEN, 5)
series(SZA_DEG, 'x3', 'y5', 'black', 2.5)

# Panel 4: FTICEHR
series(FTI_SIM2, 'x4', 'y4', GREEN, 5)
series(FTI_SIM3, 'x4', 'y4', ORANGE, 6)
series(FTI_SIM1, 'x4', 'y4', RED, 4)
series(FTI_DASHDOT, 'x4', 'y4', GREEN, 5, dash='13px,6px,3px,6px')
series(FTI_DASH, 'x4', 'y4', GREEN, 5, dash='12px,8px')

# ---------------- layout ----------------
W, H = 1233, 792
L, R, TOP, BOT = 106, 1140, 57, 733


def px(p):
    return (p - L) / (R - L)


def py(p):
    return (BOT - p) / (BOT - TOP)


FONT = 'Liberation Sans, Arial, Helvetica, sans-serif'
axis_base = dict(showline=True, linecolor='black', linewidth=1.2, ticks='inside', ticklen=8,
                 tickcolor='black', tickwidth=1, showgrid=False, zeroline=False,
                 tickfont=dict(size=21, color='black', family=FONT))


def xaxis(anchor, labels):
    d = dict(axis_base)
    d.update(range=[12, 174], tickmode='array', tickvals=X_TICKS,
             ticktext=[str(v) for v in X_TICKS], showticklabels=labels,
             anchor=anchor, mirror='ticks')
    return d


def yaxis(domain, rng, vals, texts, anchor, mirror='ticks'):
    d = dict(axis_base)
    d.update(domain=domain, range=rng, tickmode='array', tickvals=vals, ticktext=texts,
             anchor=anchor, mirror=mirror)
    return d


leg_common = dict(orientation='h', bordercolor='black', borderwidth=1, bgcolor='white',
                  font=dict(size=21, family=FONT, color='black'), itemwidth=30,
                  tracegroupgap=0, xanchor='left', yanchor='middle')
layout = dict(
    width=W, height=H, paper_bgcolor='white', plot_bgcolor='white',
    margin=dict(l=L, r=W - R, t=TOP, b=H - BOT, pad=0),
    font=dict(family=FONT, size=21, color='black'),
    xaxis=xaxis('y', False), xaxis2=xaxis('y2', False), xaxis3=xaxis('y3', False),
    xaxis4=xaxis('y4', True),
    yaxis=yaxis([py(268), 1.0], [0, 2], [0, 0.5, 1, 1.5, 2], ['0', '0.5', '1', '1.5', '2'], 'x'),
    yaxis2=yaxis([py(482), py(268)], [500, 4500], list(range(500, 4001, 500)),
                 [str(v) for v in range(500, 4001, 500)], 'x2'),
    yaxis3=yaxis([py(607), py(482)], [10, 30], [10, 15, 20, 25], ['10', '15', '20', '25'], 'x3',
                 mirror=True),
    yaxis4=yaxis([0.0, py(607)], [0.1, 0.7], [0.1, 0.3, 0.5], ['0.1', '0.3', '0.5'], 'x4'),
    showlegend=True,
    legend=dict(leg_common, x=px(336), y=py(82.5), indentation=10),
    legend2=dict(leg_common, x=px(422), y=py(297.5), indentation=10),
)
y5 = dict(axis_base)
y5.update(overlaying='y3', side='right', anchor='x3', range=[45, 90], tickmode='array',
          tickvals=[45, 56.25, 67.5, 78.75, 90], ticktext=['45', '56.25', '67.5', '78.75', '90'])
layout['yaxis5'] = y5
fig.update_layout(**layout)

ann = []


def label(text, x, y, angle=-90, size=21, xanchor='center', yanchor='middle'):
    ann.append(dict(text=text, x=px(x), y=py(y), xref='paper', yref='paper', showarrow=False,
                    textangle=angle, font=dict(size=size, family=FONT, color='black'),
                    xanchor=xanchor, yanchor=yanchor))


label('Plasma Parameters at 458 km on July 7\u221213, 2010', 623, 22, angle=0, size=33)
label('x 10<sup>5</sup>', 104, 56, angle=0, size=17, xanchor='left', yanchor='bottom')
label('Electron Density', 24, 162)
label('(cm<sup>-3</sup>)', 52, 160)
label('Temperature (K)', 35, 374)
label('Potential', 35, 544)
label('(eV)', 61, 540)
label('FTICEHR', 25, 672)
label('(GeV cm<sup>-2</sup> s<sup>-1</sup>)', 50, 693)
label('SZA (Degrees)', 1212, 548)
label('Universal Time', 623, 778, angle=0)
fig.update_layout(annotations=ann)

fig.write_html('out.html')
